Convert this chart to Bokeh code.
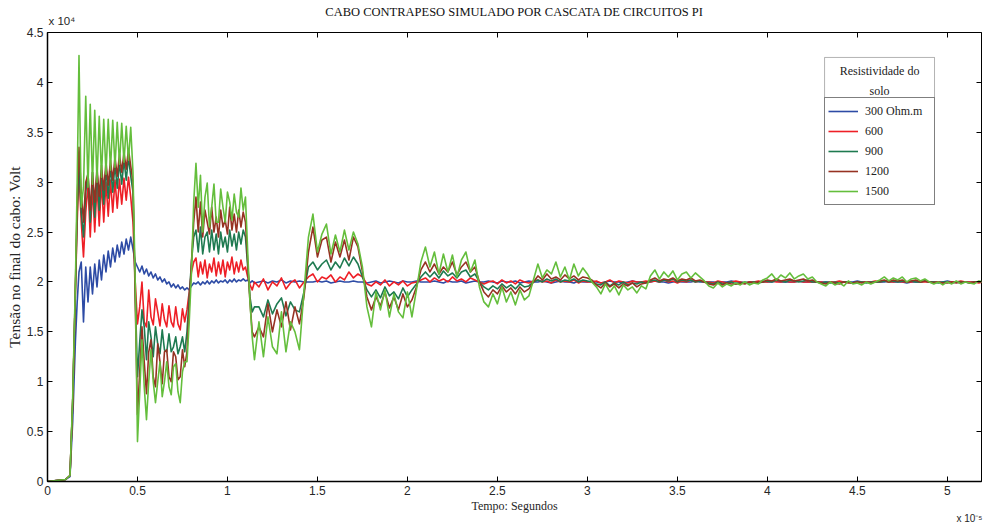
import numpy as np
from bokeh.plotting import figure
from bokeh.models import (Range1d, LinearAxis, FixedTicker, CustomJSTickFormatter,
                          Legend, LegendItem, Label, BoxAnnotation)
from bokeh.embed import file_html
from bokeh.resources import INLINE

# Tempo em unidades de 1e-5 s, tensao em unidades de 1e4 V.
# Cada serie tem tres trechos: subida inicial (instantes t_a),
# trecho fino (passo DT_B a partir de T_B0) e trecho final (passo DT_C a partir de T_C0).
t_a = [0.0, 0.05, 0.10, 0.125, 0.14, 0.155, 0.165]
T_B0, DT_B = 0.175, 0.0125
T_C0, DT_C = 1.175, 0.025

x_ticks = [0, 0.5, 1, 1.5, 2, 2.5, 3, 3.5, 4, 4.5, 5]
y_ticks = [0, 0.5, 1, 1.5, 2, 2.5, 3, 3.5, 4, 4.5]

rotulos = ["300 Ohm.m", "600", "900", "1200", "1500"]
cores = ["#2d4ba5", "#ee1f26", "#1e7a50", "#963222", "#64be3c"]

# --- 300 Ohm.m ---
v300_a = [0, 0.01, 0.02, 0.05, 0.6, 1.4, 1.8]
v300_b = [
    2.1, 2.2, 1.6, 2.15, 1.8, 2.15, 1.88, 2.18, 1.95, 2.22,
    2.02, 2.27, 2.1, 2.31, 2.15, 2.34, 2.2, 2.37, 2.25, 2.4,
    2.28, 2.43, 2.32, 2.45, 2.33, 2.2,
    2.15, 2.1, 2.16, 2.08, 2.13, 2.06, 2.1, 2.04, 2.08, 2.02,
    2.05, 2.0, 2.03, 1.98, 2.0, 1.95, 1.98, 1.94, 1.97, 1.93,
    1.95, 1.92, 1.94, 1.92, 1.96, 1.99, 1.98,
    2.0, 1.97, 2.0, 1.98, 2.01, 1.98, 2.01, 1.99, 2.02, 1.99,
    2.01, 2.0, 2.02, 1.99, 2.02, 2.0, 2.03, 2.0, 2.02, 2.01,
    2.03, 2.01, 2.02, 1.99, 2.01, 1.99]
v300_c = [
    2.0, 2.01, 1.99, 2.01, 2.0, 2.02, 1.99, 2.01, 2.0, 2.01,
    2.0, 2.0,
    2.0, 2.01, 2.0, 2.01, 1.99, 2.0, 2.01, 2.0, 2.0, 2.01, 2.0,
    2.0, 1.99,
    2.0, 2.01, 1.99, 2.0, 2.01, 2.0, 1.99, 2.01, 2.0, 2.0, 2.01,
    2.0, 2.0,
    2.0, 2.01, 2.0, 1.99, 2.01, 2.0, 2.0, 2.01, 1.99, 2.0, 2.01,
    2.0, 2.0,
    2.01, 2.0, 1.99, 2.01, 2.0, 2.0, 2.01, 1.99, 2.0, 2.01, 2.0,
    2.0, 2.01, 2.0, 1.99, 2.0, 2.01, 2.0, 2.0, 1.99, 2.01, 2.0, 2.0, 2.01,
    2.0, 1.99, 2.0, 2.01, 2.0, 2.0, 1.99, 2.0, 2.01, 2.0, 2.0, 2.0,
    2.0, 2.01, 2.0, 2.0, 1.99, 2.0, 2.01, 2.0, 2.0, 2.0, 2.01, 2.0, 2.0,
    2.0, 2.0, 1.99, 2.0, 2.0, 2.01, 2.0, 2.0, 1.99, 2.0, 2.0, 2.0, 2.01,
    2.0, 2.0, 2.01, 2.0, 2.0, 2.0, 2.0, 2.01, 2.0, 2.0, 2.0, 2.0,
    2.0, 2.0, 2.0, 1.99, 2.0, 2.0, 2.0, 2.0, 2.01, 2.0, 2.0, 2.0, 2.0,
    2.0, 2.0, 2.01, 2.0, 2.0, 2.0, 1.99, 2.0, 2.0, 2.0, 2.01, 2.0,
    2.0, 2.0, 2.0, 2.01, 2.0, 2.0, 1.99, 2.0, 2.0, 2.0, 2.0, 2.0]

# --- 600 ---
v600_a = [0, 0.01, 0.02, 0.06, 0.8, 1.9, 2.6]
v600_b = [
    3.1, 2.6, 2.25, 2.7, 2.98, 2.45, 2.95, 2.5, 2.98, 2.56,
    3.0, 2.6, 3.0, 2.66, 3.02, 2.7, 3.02, 2.74, 3.03, 2.78,
    3.04, 2.82, 3.05, 2.85, 2.6, 2.0,
    1.58, 1.75, 2.0, 1.6, 1.55, 1.92, 1.65, 1.57, 1.83, 1.7,
    1.56, 1.78, 1.62, 1.55, 1.76, 1.6, 1.55, 1.75, 1.58, 1.52,
    1.73, 1.6, 1.72, 1.9, 2.1, 2.2, 2.24,
    2.05, 2.2, 2.08, 2.22, 2.04, 2.18, 2.1, 2.24, 2.06, 2.2,
    2.08, 2.22, 2.05, 2.2, 2.12, 2.25, 2.08, 2.2, 2.1, 2.22,
    2.12, 2.15, 2.05, 1.97, 1.92, 2.0]
v600_c = [
    1.95, 2.03, 1.92, 2.0, 1.96, 2.04, 1.93, 1.99, 2.02, 1.94,
    2.0, 2.05,
    2.08, 2.0, 2.05, 2.03, 2.07, 2.0, 2.05, 2.02, 2.1, 2.04, 2.08,
    2.05, 1.98,
    1.96, 2.0, 1.97, 2.02, 1.96, 2.0, 1.97, 2.01, 1.96, 1.99, 2.0,
    2.02, 2.04,
    2.0, 2.04, 2.01, 2.03, 2.0, 2.05, 2.01, 2.03, 2.0, 2.04, 2.02,
    2.0, 1.98,
    2.0, 2.01, 1.98, 2.02, 1.99, 2.01, 1.98, 2.02, 2.0, 1.99, 2.01,
    2.02, 2.0, 2.01, 1.99, 2.02, 2.0, 2.01, 2.0, 2.02, 1.99, 2.01, 2.0, 2.0,
    2.01, 1.99, 2.0, 2.02, 1.99, 2.01, 2.0, 1.99, 2.01, 2.0, 2.0, 2.01,
    2.0, 2.01, 2.0, 2.02, 2.0, 2.01, 1.99, 2.01, 2.0, 2.02, 2.0, 2.01, 2.0,
    2.0, 1.99, 2.01, 2.0, 1.99, 2.0, 2.01, 2.0, 1.99, 2.0, 2.0, 2.01, 2.0,
    2.0, 2.01, 2.0, 2.0, 2.01, 2.0, 2.0, 2.01, 2.0, 2.0, 2.0, 2.0,
    2.0, 1.99, 2.0, 2.0, 2.01, 2.0, 2.0, 1.99, 2.0, 2.0, 2.0, 2.0, 2.01,
    2.0, 2.01, 2.0, 2.0, 2.01, 2.0, 2.0, 2.0, 2.01, 2.0, 2.0, 2.0,
    2.0, 2.0, 1.99, 2.0, 2.0, 2.0, 2.01, 2.0, 2.0, 2.0, 1.99, 2.0]

# --- 900 ---
v900_a = [0, 0.01, 0.02, 0.06, 0.8, 1.9, 2.7]
v900_b = [
    3.2, 2.7, 2.45, 2.9, 3.1, 2.6, 3.1, 2.65, 3.12, 2.72,
    3.12, 2.78, 3.15, 2.84, 3.16, 2.9, 3.18, 2.94, 3.2, 2.98,
    3.22, 3.02, 3.25, 3.06, 2.9, 1.9,
    1.05, 1.4, 1.72, 1.55, 1.22, 1.6, 1.45, 1.25, 1.55, 1.38,
    1.28, 1.52, 1.32, 1.3, 1.48, 1.3, 1.35, 1.45, 1.28, 1.35,
    1.45, 1.3, 1.5, 1.85, 2.2, 2.45, 2.52,
    2.3, 2.55, 2.28, 2.45, 2.5, 2.3, 2.52, 2.32, 2.48, 2.28,
    2.5, 2.35, 2.45, 2.3, 2.52, 2.36, 2.48, 2.32, 2.5, 2.38,
    2.52, 2.45, 2.15, 1.85, 1.7, 1.75]
v900_c = [
    1.75, 1.65, 1.82, 1.68, 1.78, 1.84, 1.66, 1.8, 1.72, 1.7,
    1.9, 2.15,
    2.2, 2.12, 2.18, 2.22, 2.12, 2.2, 2.14, 2.24, 2.16, 2.25, 2.18,
    2.05, 1.92,
    1.85, 1.92, 1.84, 1.95, 1.86, 1.9, 1.83, 1.94, 1.85, 1.92, 1.98,
    2.05, 2.1,
    2.05, 2.1, 2.04, 2.11, 2.06, 2.09, 2.04, 2.1, 2.12, 2.05, 2.08,
    2.0, 1.95,
    1.92, 1.96, 1.93, 1.98, 1.94, 1.97, 1.93, 1.98, 1.95, 1.96, 2.0,
    2.02, 2.0, 2.03, 2.01, 2.03, 2.0, 2.02, 2.01, 2.03, 2.0, 2.02, 2.01, 2.0,
    1.98, 1.97, 2.0, 1.96, 1.99, 1.97, 2.0, 1.97, 1.99, 1.98, 2.0, 1.99,
    2.01, 2.02, 2.0, 2.02, 2.01, 2.03, 2.0, 2.02, 2.01, 2.02, 2.0, 2.01, 2.0,
    1.99, 1.98, 2.0, 1.98, 1.99, 2.0, 1.98, 1.99, 2.0, 1.99, 2.0, 1.99, 2.0,
    2.01, 2.0, 2.02, 2.01, 2.0, 2.02, 2.01, 2.0, 2.01, 2.02, 2.0, 2.0,
    1.99, 2.0, 1.99, 2.0, 1.99, 2.0, 2.0, 1.99, 2.0, 2.0, 1.99, 2.0, 2.0,
    2.0, 2.01, 2.0, 2.01, 2.0, 2.01, 2.0, 2.01, 2.0, 2.0, 2.01, 2.0,
    2.0, 1.99, 2.0, 2.0, 1.99, 2.0, 2.0, 2.0, 1.99, 2.0, 2.0, 2.0]

# --- 1200 ---
v1200_a = [0, 0.01, 0.02, 0.06, 0.8, 1.95, 2.8]
v1200_b = [
    3.35, 2.9, 2.6, 3.0, 3.08, 2.72, 3.1, 2.8, 3.14, 2.86,
    3.17, 2.92, 3.2, 2.97, 3.22, 3.02, 3.25, 3.06, 3.28, 3.1,
    3.3, 3.13, 3.33, 3.16, 3.0, 1.8,
    0.67, 1.1, 1.55, 1.2, 0.88, 1.3, 1.42, 1.05, 0.95, 1.38,
    1.2, 0.98, 1.3, 1.32, 1.05, 1.0, 1.3, 1.25, 1.02, 1.05,
    1.32, 1.15, 1.3, 1.75, 2.2, 2.6, 2.85,
    2.5, 2.8, 2.45, 2.72, 2.6, 2.48, 2.75, 2.5, 2.65, 2.45,
    2.72, 2.55, 2.62, 2.48, 2.75, 2.52, 2.68, 2.5, 2.72, 2.55,
    2.7, 2.6, 2.2, 1.8, 1.5, 1.45]
v1200_c = [
    1.55, 1.45, 1.78, 1.5, 1.72, 1.55, 1.8, 1.52, 1.75, 1.58,
    1.85, 2.3,
    2.55, 2.25, 2.42, 2.45, 2.2, 2.4, 2.25, 2.42, 2.22, 2.45, 2.35,
    2.1, 1.85,
    1.72, 1.85, 1.76, 1.9, 1.74, 1.85, 1.72, 1.88, 1.75, 1.82, 1.95,
    2.12, 2.2,
    2.1, 2.18, 2.08, 2.15, 2.1, 2.2, 2.07, 2.15, 2.2, 2.1, 2.15,
    2.0, 1.9,
    1.85, 1.92, 1.88, 1.96, 1.9, 1.94, 1.88, 1.95, 1.9, 1.93, 2.0,
    2.06, 2.02, 2.08, 2.03, 2.05, 2.02, 2.07, 2.03, 2.06, 2.02, 2.05, 2.04, 2.02,
    1.97, 1.94, 1.99, 1.95, 1.98, 1.94, 1.98, 1.96, 1.99, 1.95, 1.98, 1.99,
    2.02, 2.04, 2.01, 2.03, 2.02, 2.04, 2.01, 2.03, 2.02, 2.04, 2.01, 2.02, 2.0,
    1.98, 1.97, 1.99, 1.97, 1.99, 1.98, 1.98, 1.99, 1.98, 2.0, 1.99, 2.0, 2.0,
    2.02, 2.01, 2.03, 2.01, 2.02, 2.03, 2.01, 2.02, 2.03, 2.01, 2.02, 2.0,
    1.99, 1.98, 2.0, 1.99, 1.98, 2.0, 1.99, 1.99, 2.0, 1.99, 2.0, 1.99, 2.0,
    2.01, 2.02, 2.0, 2.02, 2.01, 2.02, 2.0, 2.01, 2.02, 2.0, 2.01, 2.0,
    1.99, 2.0, 1.99, 1.99, 2.0, 1.99, 2.0, 2.0, 1.99, 2.0, 2.0, 2.0]

# --- 1500 ---
v1500_a = [0, 0.01, 0.02, 0.06, 0.85, 2.0, 3.0]
v1500_b = [
    4.27, 2.75, 2.95, 3.86, 2.95, 3.78, 2.98, 3.72, 3.0, 3.66,
    3.05, 3.63, 3.08, 3.63, 3.12, 3.62, 3.15, 3.6, 3.18, 3.59,
    3.2, 3.56, 3.22, 3.55, 3.1, 2.0,
    0.4, 0.9, 1.42, 0.95, 0.62, 1.0, 1.32, 1.0, 0.79, 1.0,
    1.2, 0.85, 1.0, 1.2, 0.95, 0.87, 1.15, 1.18, 0.9, 0.79,
    1.1, 1.2, 1.2, 1.6, 2.1, 2.8, 3.19,
    2.75, 3.07, 2.5, 2.85, 2.99, 2.55, 2.75, 2.98, 2.6, 2.6,
    2.93, 2.75, 2.6, 2.9, 2.8, 2.62, 2.88, 2.7, 2.65, 2.94,
    2.72, 2.85, 2.3, 1.8, 1.45, 1.22]
v1500_c = [
    1.6, 1.25, 1.65, 1.35, 1.28, 1.7, 1.3, 1.6, 1.5, 1.32,
    1.9, 2.45,
    2.68, 2.3, 2.48, 2.58, 2.28, 2.47, 2.3, 2.52, 2.32, 2.5, 2.38,
    2.15, 1.75,
    1.55, 1.9, 1.72, 1.92, 1.65, 1.88, 1.7, 1.64, 1.9, 1.65, 1.92,
    2.2, 2.35,
    2.15, 2.3, 2.08, 2.28, 2.1, 2.27, 2.05, 2.22, 2.3, 2.1, 2.22,
    1.95, 1.8,
    1.75, 1.88, 1.78, 1.95, 1.8, 1.9, 1.77, 1.92, 1.82, 1.86, 2.02,
    2.18, 2.04, 2.12, 2.08, 2.2, 2.05, 2.15, 2.02, 2.18, 2.06, 2.14, 2.08, 2.0,
    1.95, 1.88, 1.98, 1.9, 1.96, 1.87, 1.97, 1.92, 1.95, 1.89, 1.96, 1.93,
    2.06, 2.12, 2.03, 2.1, 2.05, 2.11, 2.02, 2.08, 2.1, 2.04, 2.09, 2.05, 2.01,
    1.96, 1.94, 1.99, 1.95, 1.98, 1.96, 1.99, 1.97, 2.0, 1.97, 1.99, 1.98, 2.02,
    2.04, 2.08, 2.02, 2.07, 2.04, 2.09, 2.03, 2.06, 2.08, 2.03, 2.05, 2.0,
    1.98, 1.96, 2.0, 1.97, 1.99, 1.96, 2.01, 1.98, 1.99, 1.97, 2.0, 1.98, 2.0,
    2.02, 2.05, 2.01, 2.04, 2.02, 2.05, 2.0, 2.03, 2.04, 2.01, 2.03, 2.0,
    1.98, 2.0, 1.97, 2.0, 1.98, 2.01, 1.98, 2.0, 1.99, 1.98, 2.01, 2.0]

series = [
    (v300_a, v300_b, v300_c),
    (v600_a, v600_b, v600_c),
    (v900_a, v900_b, v900_c),
    (v1200_a, v1200_b, v1200_c),
    (v1500_a, v1500_b, v1500_c),
]


def montar(a, b, c):
    t = np.concatenate([np.array(t_a[:len(a)]),
                        T_B0 + DT_B * np.arange(len(b)),
                        T_C0 + DT_C * np.arange(len(c))])
    v = np.concatenate([a, b, c])
    return t, v


SERIF = "Liberation Serif"
SANS = "Liberation Sans"

p = figure(width=984, height=526, output_backend="svg", toolbar_location=None,
           x_range=Range1d(0, 5.19), y_range=Range1d(0, 4.5),
           min_border_left=47, min_border_right=3, min_border_top=32, min_border_bottom=44,
           background_fill_color="white", border_fill_color="white")

p.title.text = "CABO CONTRAPESO SIMULADO POR CASCATA DE CIRCUITOS PI"
p.title.align = "center"
p.title.text_font = SERIF
p.title.text_font_size = "12.5px"
p.title.text_font_style = "normal"
p.title.text_color = "#111111"
p.title.standoff = 3

p.grid.visible = False
p.outline_line_color = "black"
p.outline_line_width = 1

fmt = CustomJSTickFormatter(code="return tick.toString();")
for ax, ticks in ((p.xaxis[0], x_ticks), (p.yaxis[0], y_ticks)):
    ax.ticker = FixedTicker(ticks=ticks)
    ax.formatter = fmt
    ax.major_tick_in = 5
    ax.major_tick_out = 0
    ax.minor_tick_line_color = None
    ax.axis_line_color = "black"
    ax.axis_line_width = 1.5
    ax.major_tick_line_color = "black"
    ax.major_label_text_font = SANS
    ax.major_label_text_font_size = "12px"
    ax.major_label_text_color = "#262626"
    ax.axis_label_text_font = SERIF
    ax.axis_label_text_font_style = "normal"
    ax.axis_label_text_color = "#262626"

p.xaxis[0].major_label_standoff = 4
p.xaxis[0].axis_label = "Tempo: Segundos"
p.xaxis[0].axis_label_text_font_size = "12px"
p.xaxis[0].axis_label_standoff = 1
p.yaxis[0].major_label_standoff = 4
p.yaxis[0].axis_label = "Tensão no final do cabo: Volt"
p.yaxis[0].axis_label_text_font_size = "15.5px"
p.yaxis[0].axis_label_standoff = 1

# ticks internos tambem no topo e a direita
for side, ticks in (("above", x_ticks), ("right", y_ticks)):
    ax = LinearAxis(ticker=FixedTicker(ticks=ticks), major_tick_in=5, major_tick_out=0,
                    minor_tick_line_color=None, axis_line_color=None,
                    major_tick_line_color="black", major_label_text_font_size="0px",
                    major_label_text_color=None, major_label_standoff=0)
    p.add_layout(ax, side)

renderers = []
for (a, b, c), cor in zip(series, cores):
    t, v = montar(a, b, c)
    r = p.line(t, v, line_color=cor, line_width=1.6, line_join="round")
    renderers.append(r)

# fatores de escala dos eixos, fora da area do grafico
lab_kw = dict(x_units="data", y_units="data", text_font=SANS, text_color="#262626",
              text_baseline="middle")
p.add_layout(Label(x=0, y=4.5, text="x 10\u2074", x_offset=1, y_offset=12,
                   text_align="left", text_font_size="11.5px", **lab_kw), "above")
p.add_layout(Label(x=5.19, y=0, text="x 10\u207b\u2075", x_offset=1, y_offset=-37,
                   text_align="right", text_font_size="10px", **lab_kw), "below")

# caixa do titulo da legenda
p.add_layout(BoxAnnotation(left=4.318, right=4.929, top=4.25, bottom=3.817,
                           fill_color="white", fill_alpha=1.0,
                           line_color="black", line_width=1))
for txt, yy in (("Resistividade do", 4.117), ("solo", 3.917)):
    p.add_layout(Label(x=4.6235, y=yy, text=txt, text_align="center", text_baseline="middle",
                       x_units="data", y_units="data", text_font=SERIF,
                       text_font_size="12px", text_color="#222222"))

legend = Legend(items=[LegendItem(label=lbl, renderers=[r]) for lbl, r in zip(rotulos, renderers)],
                location=(777, 276), orientation="vertical",
                border_line_color="black", border_line_width=1.5, background_fill_color="white",
                background_fill_alpha=1.0, padding=3, spacing=0, margin=0,
                glyph_width=30, glyph_height=20, label_height=20, label_width=66,
                label_standoff=7, label_text_font=SERIF, label_text_font_size="12px",
                label_text_color="#222222")
p.add_layout(legend)

open("out.html", "w").write(file_html(p, INLINE))
